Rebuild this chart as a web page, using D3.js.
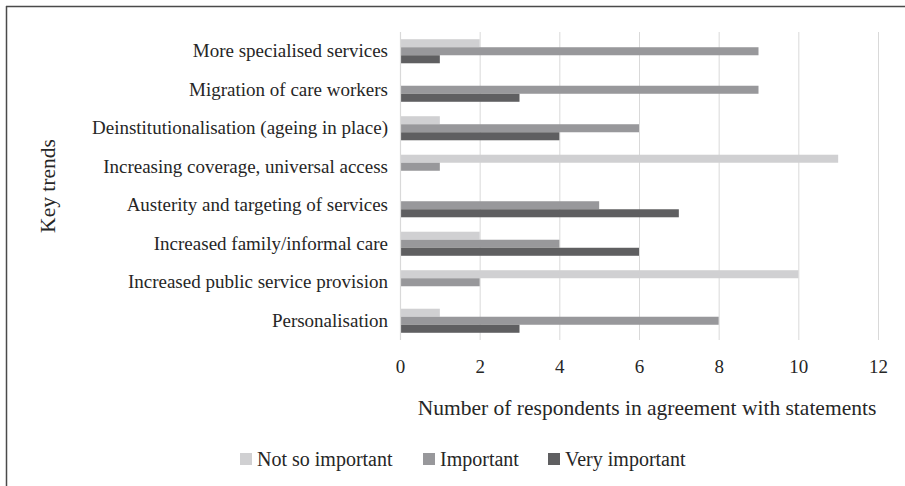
<!DOCTYPE html>
<html><head><meta charset="utf-8">
<script src="https://cdn.jsdelivr.net/npm/d3@7"></script>
<style>
html,body{margin:0;padding:0;background:#fff;}
svg{display:block;}
text{font-family:"Liberation Serif","Times New Roman",serif;fill:#262626;}
</style></head>
<body>
<svg id="chart" width="905" height="486"></svg>
<script>
const categories = [
  "More specialised services",
  "Migration of care workers",
  "Deinstitutionalisation (ageing in place)",
  "Increasing coverage, universal access",
  "Austerity and targeting of services",
  "Increased family/informal care",
  "Increased public service provision",
  "Personalisation"
];
const seriesNames = ["Not so important", "Important", "Very important"];
const notSoImportant = [2, 0, 1, 11, 0, 2, 10, 1];
const important      = [9, 9, 6, 1, 5, 4, 2, 8];
const veryImportant  = [1, 3, 4, 0, 7, 6, 0, 3];
const xTicks = [0, 2, 4, 6, 8, 10, 12];
const colors = ["#d0d0d2", "#98989b", "#5f5f61"];

(function () {
const seriesValues = [notSoImportant, important, veryImportant];
const svg = d3.select("#chart");
const FF = '"Liberation Serif","Times New Roman",serif';

// frame (top and left lines)
svg.append("line").attr("x1",6).attr("x2",905).attr("y1",6.5).attr("y2",6.5)
  .attr("stroke","#4a4a4a").attr("stroke-width",1.5);
svg.append("line").attr("x1",6.5).attr("x2",6.5).attr("y1",6).attr("y2",486)
  .attr("stroke","#4a4a4a").attr("stroke-width",1.5);

const pL = 400, pR = 878, pT = 32, pB = 340;
const x = d3.scaleLinear().domain([0, 12]).range([pL, pR]);
const y = d3.scaleBand().domain(categories).range([pT, pB]).paddingInner(0.375).paddingOuter(0.1875);
const ySub = d3.scaleBand().domain(seriesNames).range([0, y.bandwidth()]);

// gridlines
svg.append("g").selectAll("line").data(xTicks.filter(d => d > 0)).join("line")
  .attr("x1", d => x(d) + 0.5).attr("x2", d => x(d) + 0.5)
  .attr("y1", pT).attr("y2", pB)
  .attr("stroke", "#d9d9d9").attr("stroke-width", 1);

// bars
const groups = svg.append("g").selectAll("g").data(categories).join("g")
  .attr("transform", c => `translate(0,${y(c)})`);
groups.selectAll("rect").data((c, i) => seriesNames.map((s, j) => ({s, v: seriesValues[j][i], j})))
  .join("rect")
  .attr("x", x(0))
  .attr("y", d => ySub(d.s))
  .attr("width", d => x(d.v) - x(0))
  .attr("height", ySub.bandwidth())
  .attr("fill", d => colors[d.j]);

// y axis line
svg.append("line").attr("x1", x(0)+0.5).attr("x2", x(0)+0.5).attr("y1", pT).attr("y2", pB)
  .attr("stroke", "#d9d9d9").attr("stroke-width", 1.2);

// y axis labels
const yAxis = d3.axisLeft(y).tickSize(0).tickPadding(12);
const yg = svg.append("g").attr("transform", `translate(${x(0)},0)`).call(yAxis);
yg.select(".domain").remove();
yg.selectAll("text").attr("font-size", 19).style("font-family", FF).attr("fill", "#262626");

// x axis labels
const xAxis = d3.axisBottom(x).tickValues(xTicks).tickSize(0).tickPadding(0);
const xg = svg.append("g").attr("transform", `translate(0,${pB + 19})`).call(xAxis);
xg.select(".domain").remove();
xg.selectAll("text").attr("font-size", 19).style("font-family", FF).attr("fill", "#595959");

// axis titles
svg.append("text").attr("x", 647).attr("y", 415)
  .attr("text-anchor", "middle").attr("font-size", 21.5).text("Number of respondents in agreement with statements");
svg.append("text").attr("transform", `translate(55,${(pT + pB) / 2}) rotate(-90)`)
  .attr("text-anchor", "middle").attr("font-size", 21.5).text("Key trends");

// legend
const legendX = [240, 423, 548];
const lg = svg.append("g").selectAll("g").data(seriesNames).join("g")
  .attr("transform", (d, i) => `translate(${legendX[i]},459)`);
lg.append("rect").attr("x", 0).attr("y", -6).attr("width", 12).attr("height", 12)
  .attr("fill", (d, i) => colors[i]);
lg.append("text").attr("x", 17).attr("y", 6.5).attr("font-size", 20).text(d => d);
})();
</script>
</body></html>
